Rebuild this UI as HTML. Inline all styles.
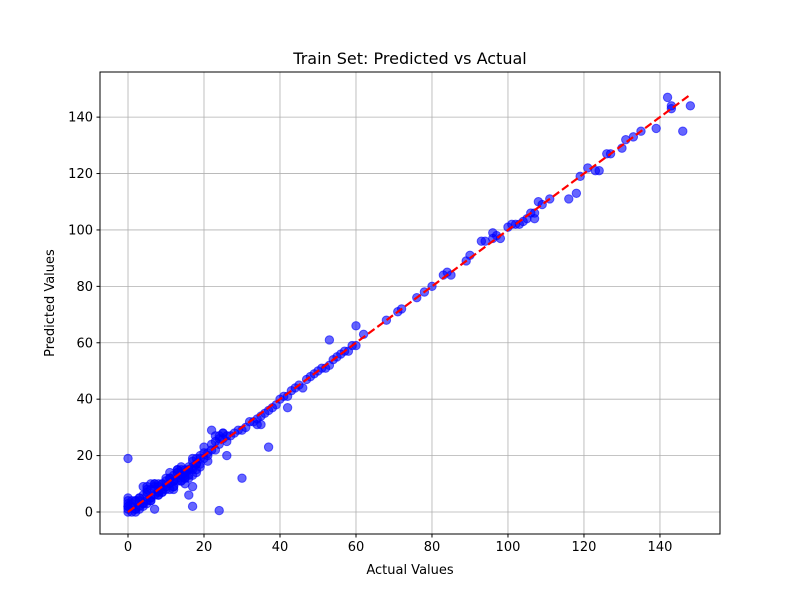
<!DOCTYPE html>
<html><head><meta charset="utf-8"><style>
body{margin:0;background:#fff}
svg text{font-family:"DejaVu Sans","Liberation Sans",sans-serif;fill:#000}
</style></head><body>
<svg id="chart" width="800" height="600">
<rect width="800" height="600" fill="#fff"/>
<g id="grid"></g>
<g id="pts"></g>
<g id="fit"></g>
<rect x="100" y="72" width="620" height="462" fill="none" stroke="#000" stroke-width="1"/>
<g id="ticks"></g>
<text x="410" y="64" font-size="16" text-anchor="middle">Train Set: Predicted vs Actual</text>
<text x="410" y="574" font-size="13" text-anchor="middle">Actual Values</text>
<text x="54" y="303" font-size="13" text-anchor="middle" transform="rotate(-90 54 303)">Predicted Values</text>
</svg>
<script>
const xTicks=[0,20,40,60,80,100,120,140];
const yTicks=[0,20,40,60,80,100,120,140];
const actual=[0,0,0,0,0,1,1,2,2,3,3,4,4,5,5,5,6,6,7,7,7,8,8,9,9,10,10,11,11,12,12,13,13,14,14,15,15,16,16,17,17,18,18,19,19,20,20,21,22,22,23,23,24,24,25,25,26,27,28,29,30,31,32,33,34,35,36,37,38,39,40,41,42,43,44,45,46,47,48,49,50,51,52,53,54,55,56,57,58,59,60,62,68,71,72,76,78,80,83,84,85,89,90,93,94,96,96,97,98,100,101,102,103,104,105,106,107,107,108,109,111,116,118,119,121,123,124,126,127,130,131,133,135,139,142,143,143,146,148,
0,2,4,6,8,10,12,14,16,18,3,5,7,9,11,13,15,17,19,21,23,7,17,30,37,16,17,24,26,22,25,34,35,42,53,60,12,8,14,6,
1,2,3,4,5,6,7,8,9,10,11,12,13,14,15,16,17,18,19,4,6,8,10,12,14,16,18,5,9,13,15,17,1,3,2,0,0,11,13,15,20,21,24,26];
const predicted=[0,1,2,3,5,0,2,1,4,2,5,3,6,4,7,9,5,8,6,9,10,7,9,8,10,9,11,10,12,11,13,12,14,13,15,14,15,15,16,16,18,17,19,19,20,19,21,21,22,24,22,25,24,26,26,28,27,27,28,29,29,30,32,32,33,34,35,36,37,38,40,41,41,43,44,45,44,47,48,49,50,51,51,52,54,55,56,57,57,59,59,63,68,71,72,76,78,80,84,85,84,89,91,96,96,97,99,98,97,101,102,102,102,103,104,106,104,106,110,109,111,111,113,119,122,121,121,127,127,129,132,133,135,136,147,144,143,135,144,
19,1,3,5,7,9,11,13,15,17,4,6,8,10,12,14,12,15,16,20,27,1,9,12,23,6,2,0.5,20,29,28,31,31,37,61,66,8,10,16,4,
3,0,5,2,8,4,10,6,7,8,14,9,15,11,13,12,19,14,17,9,10,6,12,9,11,13,15,3,7,15,10,13,4,1,4,2,4,8,11,12,23,18,27,25];
const L=100,R=720,T=72,B=534,x0=-7.37,x1=155.8,y0=-7.8,y1=156;
const sx=v=>L+(v-x0)/(x1-x0)*(R-L), sy=v=>B-(v-y0)/(y1-y0)*(B-T);
const NS="http://www.w3.org/2000/svg";
function mk(tag,attrs,parent){const e=document.createElementNS(NS,tag);for(const k in attrs)e.setAttribute(k,attrs[k]);document.getElementById(parent).appendChild(e);return e;}
xTicks.forEach(t=>{
 const l=mk('line',{x1:sx(t),x2:sx(t),y1:T,y2:B,stroke:'#b0b0b0','stroke-width':0.8},'grid');
 
 
 const k=mk('line',{x1:sx(t),x2:sx(t),y1:B,y2:B+3.5,stroke:'#000'},'ticks');
 
 
 const tx=mk('text',{x:sx(t),y:B+17,'font-size':13,'text-anchor':'middle'},'ticks');tx.textContent=t;
 
 
});
yTicks.forEach(t=>{
 const l=mk('line',{x1:L,x2:R,y1:sy(t),y2:sy(t),stroke:'#b0b0b0','stroke-width':0.8},'grid');
 
 
 const k=mk('line',{x1:L-3.5,x2:L,y1:sy(t),y2:sy(t),stroke:'#000'},'ticks');
 
 
 const tx=mk('text',{x:L-7,y:sy(t)+4.5,'font-size':13,'text-anchor':'end'},'ticks');tx.textContent=t;
 
 
});
actual.forEach((a,i)=>{
 const c=mk('circle',{cx:sx(a),cy:sy(predicted[i]),r:4.2,fill:'rgba(0,0,255,0.6)',stroke:'rgba(0,0,255,0.6)','stroke-width':1},'pts');
 
 
});
const mn=0,mx=148;
const f=mk('line',{x1:sx(mn),y1:sy(mn),x2:sx(mx),y2:sy(mx),stroke:'#ff0000','stroke-width':2.2,'stroke-dasharray':'8,3.5'},'fit');


</script>
</body></html>
